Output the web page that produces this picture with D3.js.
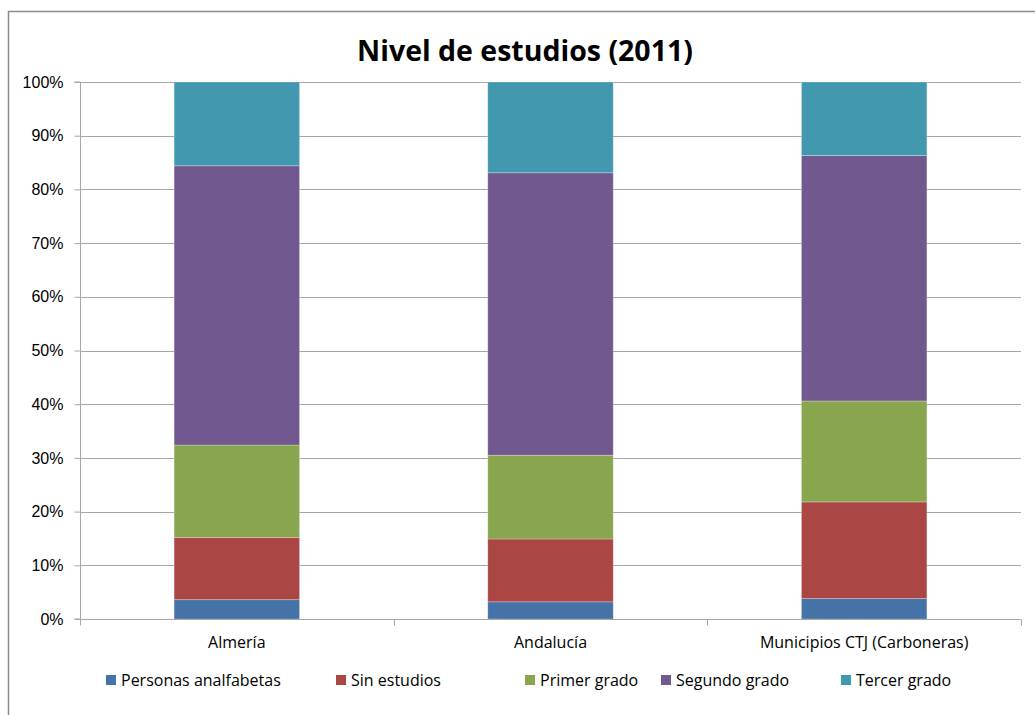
<!DOCTYPE html>
<html><head><meta charset="utf-8">
<script src="https://cdn.jsdelivr.net/npm/d3@7"></script>
<style>
body{margin:0;background:#fff;}
svg{display:block;font-family:"Open Sans","Liberation Sans",sans-serif;}
</style></head>
<body><svg id="c" width="1035" height="715"></svg>
<script>
const categories = ["Almería","Andalucía","Municipios CTJ (Carboneras)"];
const seriesNames = ["Personas analfabetas","Sin estudios","Primer grado","Segundo grado","Tercer grado"];
const analfabetas = [3.6, 3.2, 3.8];
const sinEstudios = [11.6, 11.7, 18.0];
const primerGrado = [17.2, 15.6, 18.8];
const segundoGrado = [52.0, 52.6, 45.7];
const tercerGrado = [15.6, 16.9, 13.7];
const colors = ["#4572A7","#AA4643","#89A54E","#71588F","#4198AF"];
const yTicks = [0,10,20,30,40,50,60,70,80,90,100];
const title = "Nivel de estudios (2011)";

const seriesVals = [analfabetas, sinEstudios, primerGrado, segundoGrado, tercerGrado];
const rows = categories.map((c,i)=>{const r={cat:c}; seriesNames.forEach((s,j)=>r[s]=seriesVals[j][i]); return r;});
const stacked = d3.stack().keys(seriesNames)(rows);

const svg = d3.select("#c");
// chart border
svg.append("rect").attr("x",8.5).attr("y",11.5).attr("width",1100).attr("height",800)
  .attr("fill","none").attr("stroke","#8c8c8c").attr("stroke-width",1.5);

const L=80, R=1021, T=82, B=619;
const x = d3.scaleBand().domain(categories).range([L,R]).paddingInner(0).paddingOuter(0);
const y = d3.scaleLinear().domain([0,100]).range([B,T]);
const barW = x.bandwidth()*0.4;

// gridlines
svg.append("g").selectAll("line").data(yTicks.filter(d=>d>0)).join("line")
  .attr("x1",L).attr("x2",R).attr("y1",d=>Math.round(y(d))+0.5).attr("y2",d=>Math.round(y(d))+0.5)
  .attr("stroke","#a6a6a6").attr("stroke-width",1);

// bars
const g = svg.append("g");
stacked.forEach((s,j)=>{
  g.selectAll(null).data(s).join("rect")
   .attr("x",d=>x(d.data.cat)+(x.bandwidth()-barW)/2)
   .attr("width",barW)
   .attr("y",d=>y(d[1]))
   .attr("height",d=>y(d[0])-y(d[1]))
   .attr("fill",colors[j])
   .attr("stroke","rgba(255,255,255,0.35)").attr("stroke-width",0.8);
});

// y axis
const yAxis = d3.axisLeft(y).tickValues(yTicks).tickFormat(d=>d+"%").tickSize(6).tickPadding(11);
const ya = svg.append("g").attr("transform",`translate(${L+0.5},0)`).call(yAxis);
ya.select(".domain").attr("stroke","#a6a6a6").attr("d",`M-6,${T}H0V${B}H-6`);
ya.selectAll(".tick line").attr("stroke","#a6a6a6");
ya.selectAll(".tick text").attr("fill","#000").style("font-size","16px");

// x axis
const xa = svg.append("g").attr("transform",`translate(0,${B+0.5})`);
xa.append("line").attr("x1",L).attr("x2",R).attr("stroke","#a6a6a6");
const edges = categories.map(c=>x(c)).concat([R]);
xa.selectAll(".tk").data(edges).join("line").attr("x1",d=>Math.round(d)+0.5).attr("x2",d=>Math.round(d)+0.5)
  .attr("y1",0).attr("y2",6).attr("stroke","#a6a6a6");
xa.selectAll("text").data(categories).join("text")
  .attr("x",d=>x(d)+x.bandwidth()/2).attr("y",28).attr("text-anchor","middle")
  .style("font-size","16px").attr("fill","#000").text(d=>d);

// title
svg.append("text").attr("x",525).attr("y",61).attr("text-anchor","middle")
  .style("font-size","28.5px").style("font-weight","bold").attr("fill","#000").text(title);

// legend
const legX = [106,336,525,661,841];
const lg = svg.append("g");
seriesNames.forEach((s,j)=>{
  lg.append("rect").attr("x",legX[j]).attr("y",675).attr("width",10).attr("height",10).attr("fill",colors[j]);
  lg.append("text").attr("x",legX[j]+15).attr("y",686).style("font-size","16px").attr("fill","#000").text(s);
});
</script></body></html>
